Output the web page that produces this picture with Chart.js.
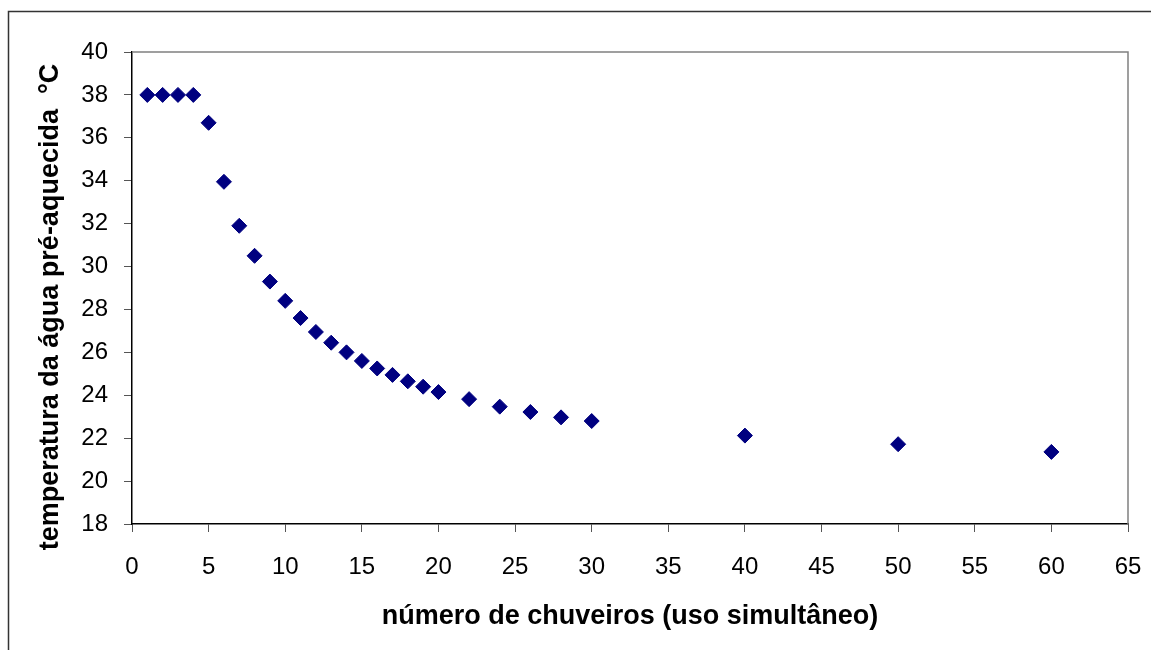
<!DOCTYPE html>
<html>
<head>
  <meta charset="utf-8">
  <title>Temperatura da água pré-aquecida</title>
  <script src="https://cdn.jsdelivr.net/npm/chart.js"></script>
  <style>
    html, body { margin: 0; padding: 0; background: #fff; }
    #wrap { width: 1151px; height: 650px; }
  </style>
</head>
<body>
  <div id="wrap"><canvas id="chart"></canvas></div>

  <script>
    // número de chuveiros (uso simultâneo)
    const showers = [1, 2, 3, 4, 5, 6, 7, 8, 9, 10, 11, 12, 13, 14, 15, 16, 17, 18, 19, 20, 22, 24, 26, 28, 30, 40, 50, 60];
    // temperatura da água pré-aquecida (°C)
    const temps = [38, 38, 38, 38, 36.7, 33.95, 31.9, 30.5, 29.3, 28.4, 27.6, 26.95, 26.45, 26.0, 25.6, 25.25, 24.95, 24.65, 24.4, 24.15, 23.82, 23.47, 23.22, 22.97, 22.8, 22.12, 21.72, 21.36];

    const xTicks = [0, 5, 10, 15, 20, 25, 30, 35, 40, 45, 50, 55, 60, 65];
    const yTicks = [18, 20, 22, 24, 26, 28, 30, 32, 34, 36, 38, 40];

    const xTitle = 'número de chuveiros (uso simultâneo)';
    const yTitle = 'temperatura da água pré-aquecida  °C';

    const FONT = '"Liberation Sans", Arial, sans-serif';
    const points = showers.map((x, i) => ({ x: x, y: temps[i] }));

    // outer frame, gray top/right edge of the plot, and the y title
    const frame = {
      id: 'frame',
      beforeDraw(chart) {
        const c = chart.ctx;
        c.save();
        c.fillStyle = '#fff';
        c.fillRect(0, 0, chart.width, chart.height);
        c.strokeStyle = '#333';
        c.lineWidth = 1.5;
        c.strokeRect(8.5, 11.5, chart.width + 20, chart.height + 20);
        c.restore();
      },
      afterDatasetsDraw(chart) {
        const a = chart.chartArea;
        const c = chart.ctx;
        c.save();
        c.strokeStyle = '#808080';
        c.lineWidth = 1.5;
        c.beginPath();
        c.moveTo(a.left, a.top);
        c.lineTo(a.right, a.top);
        c.lineTo(a.right, a.bottom);
        c.stroke();

        // y axis title, a bit below the plot's middle as in the original
        c.translate(51, 307);
        c.rotate(-Math.PI / 2);
        c.fillStyle = '#000';
        c.font = 'bold 27px ' + FONT;
        c.textAlign = 'center';
        c.textBaseline = 'middle';
        c.fillText(yTitle, 0, 0);
        c.restore();
      }
    };

    Chart.defaults.font.family = FONT;
    Chart.defaults.color = '#000';

    new Chart(document.getElementById('chart'), {
      type: 'scatter',
      data: {
        datasets: [{
          data: points,
          pointStyle: 'rectRot',
          pointRadius: 7.5,
          pointBorderWidth: 1,
          backgroundColor: '#000080',
          borderColor: '#000080'
        }]
      },
      options: {
        responsive: true,
        maintainAspectRatio: false,
        animation: false,
        layout: { padding: { left: 0, top: 52, right: 23, bottom: 0 } },
        plugins: { legend: { display: false }, tooltip: { enabled: false } },
        scales: {
          x: {
            type: 'linear',
            min: 0,
            max: 65,
            afterBuildTicks(scale) { scale.ticks = xTicks.map(v => ({ value: v })); },
            afterFit(scale) {
              scale.height = 126;
              scale.paddingLeft = 0;
              scale.paddingRight = 0;
            },
            ticks: { font: { size: 24 }, padding: 21, maxRotation: 0 },
            grid: { drawOnChartArea: false, drawTicks: true, tickLength: 8, color: '#555' },
            border: { color: '#000', width: 1.5 },
            title: {
              display: true,
              text: xTitle,
              font: { size: 27, weight: 'bold' },
              padding: { top: 0, bottom: 17 }
            }
          },
          y: {
            min: 18,
            max: 40,
            afterBuildTicks(scale) { scale.ticks = yTicks.map(v => ({ value: v })); },
            afterFit(scale) {
              scale.width = 132;
              scale.paddingTop = 0;
              scale.paddingBottom = 0;
            },
            ticks: { font: { size: 24 }, padding: 16 },
            grid: { drawOnChartArea: false, drawTicks: true, tickLength: 8, color: '#555' },
            border: { color: '#000', width: 1.5 },
            title: { display: false }
          }
        }
      },
      plugins: [frame]
    });
  </script>
</body>
</html>
